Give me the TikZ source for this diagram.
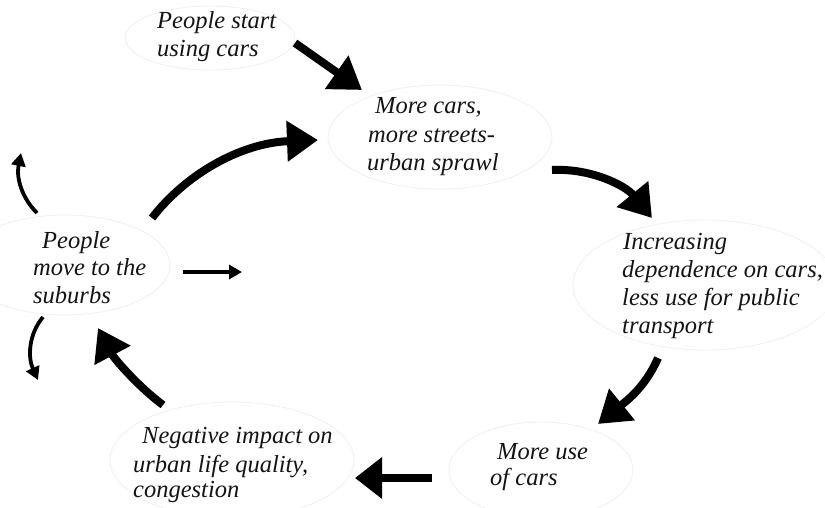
\documentclass[tikz,border=0pt]{standalone}
\usepackage{fontspec}
\setmainfont{Liberation Serif}
\usetikzlibrary{arrows.meta}
\begin{document}
\begin{tikzpicture}[x=1pt,y=-1pt,
  txt/.style={anchor=base west,inner sep=0pt,font=\fontsize{24.5}{28}\selectfont\itshape,text=black!92},
  bubble/.style={draw=black!6,line width=0.8pt},
  bigarrow/.style={line width=8pt,-{Triangle[length=31pt,width=39pt]}},
  smallarrow/.style={line width=3.8pt,-{Triangle[length=13pt,width=14pt]}}]
\useasboundingbox (0,0) rectangle (825,507);
\clip (0,0) rectangle (825,507);
\fill[white] (0,0) rectangle (825,507);
% bubbles
\draw[bubble] (210,38) ellipse (85 and 32);
\draw[bubble] (440,137) ellipse (112 and 52);
\draw[bubble] (705,285) ellipse (132 and 65);
\draw[bubble] (541,470) ellipse (92 and 48);
\draw[bubble] (232,460) ellipse (122 and 58);
\draw[bubble] (65,265) ellipse (105 and 50);
% texts
\node[txt] (n1a) at (157,28) {People start};
\node[txt] (n1b) at (157,56) {using cars};
\node[txt] (n2a) at (375,113) {More cars,};
\node[txt] (n2b) at (368,142) {more streets-};
\node[txt] (n2c) at (367,170) {urban sprawl};
\node[txt] (n3a) at (623,249) {Increasing};
\node[txt] (n3b) at (622,277) {dependence on cars,};
\node[txt] (n3c) at (622,305) {less use for public};
\node[txt] (n3d) at (622,333) {transport};
\node[txt] (n4a) at (497,459) {More use};
\node[txt] (n4b) at (490,485) {of cars};
\node[txt] (n5a) at (142,443) {Negative impact on};
\node[txt] (n5b) at (133,472) {urban life quality,};
\node[txt] (n5c) at (133,497) {congestion};
\node[txt] (n6a) at (42,248) {People};
\node[txt] (n6b) at (33,275) {move to the};
\node[txt] (n6c) at (33,303) {suburbs};
% arrow end points
\coordinate (a1s) at (295,43);  \coordinate (a1e) at (362,90);
\coordinate (a2s) at (152,218); \coordinate (a2e) at (318,140);
\coordinate (a3s) at (552,170); \coordinate (a3e) at (652,218);
\coordinate (a4s) at (658,358); \coordinate (a4e) at (598,424);
\coordinate (a5s) at (432,478); \coordinate (a5e) at (355,478);
\coordinate (a6s) at (163,405); \coordinate (a6e) at (98,328);
\coordinate (a7s) at (37,213);  \coordinate (a7e) at (21,153);
\coordinate (a8s) at (183,272); \coordinate (a8e) at (242,272);
\coordinate (a9s) at (43,317);  \coordinate (a9e) at (38,380);
% arrows
\draw[bigarrow] (a1s) -- (a1e);
\draw[bigarrow] (a2s) .. controls (185,175) and (240,143) .. (a2e);
\draw[bigarrow] (a3s) .. controls (590,168) and (625,185) .. (a3e);
\draw[bigarrow] (a4s) .. controls (645,388) and (625,402) .. (a4e);
\draw[bigarrow,-{Triangle[length=27pt,width=40pt]}] (a5s) -- (a5e);
\draw[bigarrow] (a6s) .. controls (140,388) and (115,360) .. (a6e);
\draw[smallarrow] (a7s) .. controls (22,198) and (16,178) .. (a7e);
\draw[smallarrow] (a8s) -- (a8e);
\draw[smallarrow] (a9s) .. controls (28,335) and (28,358) .. (a9e);
\end{tikzpicture}
\end{document}
